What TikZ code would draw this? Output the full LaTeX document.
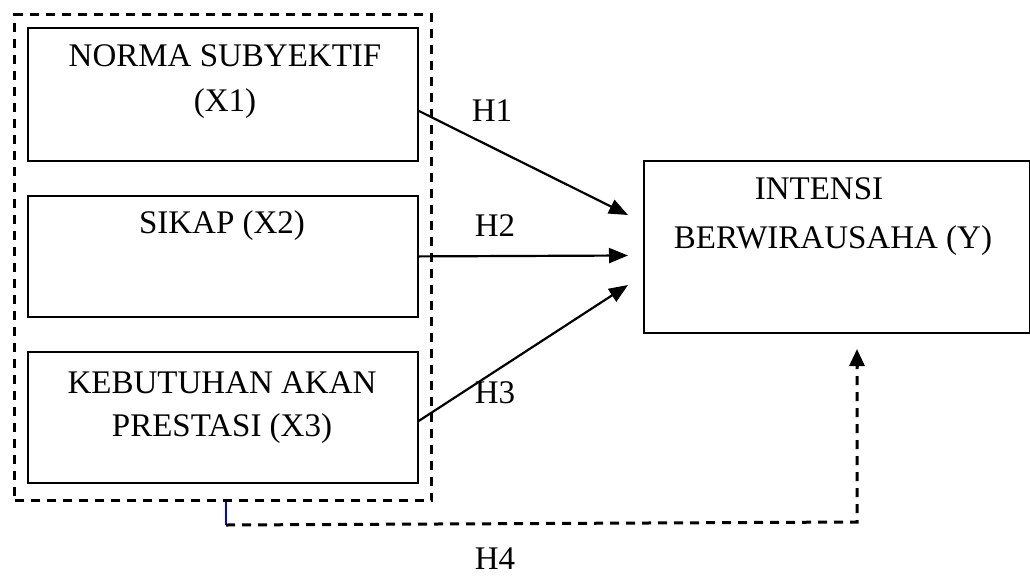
\documentclass[tikz,border=0pt]{standalone}
\usepackage{fontspec}
\setmainfont{Liberation Serif}
\usetikzlibrary{arrows.meta,calc}
\begin{document}
\begin{tikzpicture}[x=1pt,y=-1pt,
  box/.style={draw,line width=1.8pt,inner sep=0pt},
  lbl/.style={font=\fontsize{33}{40}\selectfont,inner sep=0pt,anchor=base},
  conn/.style={line width=2.2pt,-{Triangle[length=19pt,width=15pt]}},
  dbox/.style={draw,line width=3pt,dash pattern=on 9pt off 7pt},
  dconn/.style={line width=3pt,dash pattern=on 9pt off 7pt}]
\useasboundingbox (0,0) rectangle (1030,576);
% dashed group box
\node[dbox,minimum width=417pt,minimum height=486pt,anchor=north west,inner sep=0pt] (grp) at (13,13) {};
% boxes
\node[box,minimum width=390pt,minimum height=133pt,anchor=north west] (x1) at (27,27) {};
\node[box,minimum width=390pt,minimum height=121pt,anchor=north west] (x2) at (27,195) {};
\node[box,minimum width=390pt,minimum height=131pt,anchor=north west] (x3) at (27,351) {};
\node[box,minimum width=386pt,minimum height=172pt,anchor=north west] (y) at (643,160) {};
% texts
\node[lbl] (t1a) at (225,66) {NORMA SUBYEKTIF};
\node[lbl] (t1b) at (225,111) {(X1)};
\node[lbl] (t2) at (222,233) {SIKAP (X2)};
\node[lbl] (t3a) at (222,393) {KEBUTUHAN AKAN};
\node[lbl] (t3b) at (222,436) {PRESTASI (X3)};
\node[lbl] (ty1) at (819,199) {INTENSI};
\node[lbl] (ty2) at (833,248) {BERWIRAUSAHA (Y)};
\node[lbl] (h1) at (492,121) {H1};
\node[lbl] (h2) at (495,236) {H2};
\node[lbl] (h3) at (495,403) {H3};
\node[lbl] (h4) at (495,569) {H4};
% targets
\coordinate (p1) at (628,215);
\coordinate (p2) at (628,255.5);
\coordinate (p3) at (628,285);
\draw[conn] ([yshift=-16.5pt]x1.east) -- (p1);
\draw[conn] (x2.east) -- (p2);
\draw[conn] ([yshift=-3.5pt]x3.east) -- (p3);
% H4
\coordinate (b0) at ($(grp.south west)+(213,0)$);
\coordinate (b1) at ($(b0)+(0,23)$);
\coordinate (b2) at (857,522);
\coordinate (b3) at (857,349);
\draw[line width=2.6pt,blue] (b0) -- (b1);
\draw[dconn] (b1) -- (b2) -- ([yshift=-16pt]b3);
\draw[line width=3pt,-{Triangle[length=17pt,width=15pt]}] ([yshift=-18pt]b3) -- (b3);
\end{tikzpicture}
\end{document}
